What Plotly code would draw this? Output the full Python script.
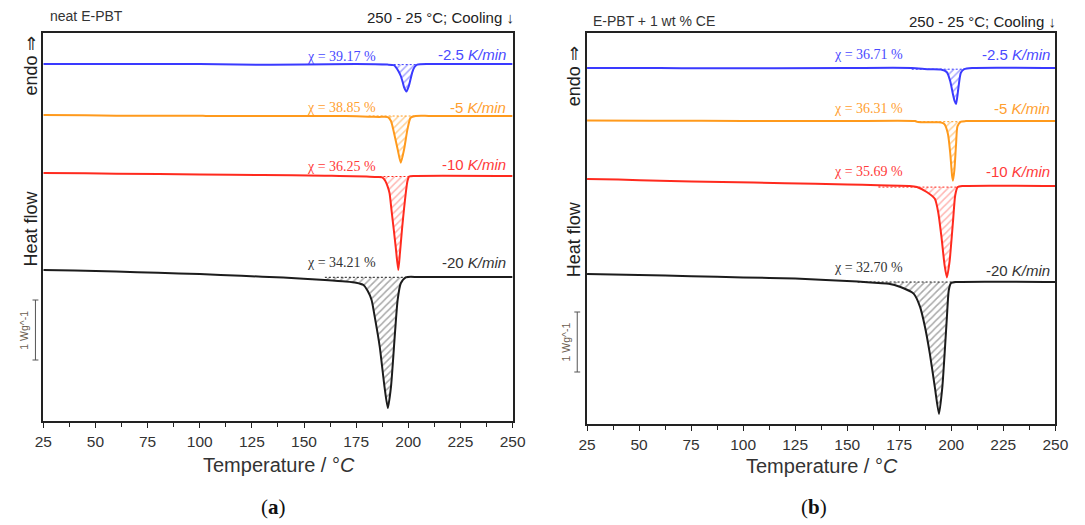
import plotly.graph_objects as go

W, H = 1085, 525

# ---------------- (a) neat E-PBT : cooling scans, stacked heat flow / W g^-1 ----------------
temp_a_2p5 = [25, 60, 100, 118, 150, 175, 190, 193, 194.1, 195.3, 196.4, 197.3, 198.0, 199.1,
              200.3, 201.1, 201.9, 203, 204.3, 210, 250]
hf_a_2p5 = [0, 0, 0, -0.01, -0.01, 0, -0.01, -0.02, -0.055, -0.12, -0.2, -0.3, -0.39, -0.46,
            -0.36, -0.25, -0.14, -0.05, -0.01, 0, 0]

temp_a_5 = [25, 45, 60, 100, 103, 150, 170, 181, 186, 190.2, 191.7, 193.3, 194.9, 196.4, 198.0,
            199.6, 201.1, 203.5, 210, 250]
hf_a_5 = [-0.85, -0.855, -0.862, -0.862, -0.867, -0.867, -0.867, -0.878, -0.882, -0.885, -0.95,
          -1.17, -1.42, -1.645, -1.42, -1.09, -0.895, -0.867, -0.865, -0.865]

temp_a_10 = [25, 45, 60, 100, 130, 160, 167, 180, 185, 187.5, 189, 190, 191, 192, 193, 194, 195.2,
             196, 197, 198, 198.8, 199.6, 200.4, 203, 250]
hf_a_10 = [-1.817, -1.822, -1.83, -1.84, -1.85, -1.862, -1.866, -1.875, -1.885, -1.89, -1.95, -2.03,
           -2.15, -2.45, -2.75, -3.06, -3.433, -3.15, -2.75, -2.40, -2.15, -1.95, -1.875, -1.865,
           -1.865]

temp_a_20 = [25, 40, 60, 80, 100, 120, 140, 160, 170, 175, 178.5, 180.5, 182.4, 183.9, 186.3, 188.6,
             190.2, 191.7, 193.6, 194.9, 196.4, 198.8, 205, 250]
hf_a_20 = [-3.433, -3.44, -3.46, -3.48, -3.50, -3.53, -3.56, -3.60, -3.625, -3.645, -3.683, -3.78,
           -3.933, -4.21, -4.71, -5.38, -5.733, -5.38, -4.49, -3.93, -3.655, -3.555, -3.55, -3.55]

# ---------------- (b) E-PBT + 1 wt % CE ----------------
temp_b_2p5 = [25, 60, 80, 150, 181, 189, 195, 197.9, 199.5, 200.7, 201.6, 202.3, 203.0, 203.5,
              204.6, 206.2, 210, 250]
hf_b_2p5 = [0, 0, -0.005, 0, 0, -0.02, -0.025, -0.07, -0.22, -0.42, -0.55, -0.6, -0.45, -0.31,
            -0.08, -0.02, 0, 0]

temp_b_5 = [25, 55, 80, 120, 150, 182.7, 184, 194, 196, 196.8, 198.4, 199.5, 200.4, 200.8, 201.5,
            202.3, 203.0, 204.7, 207, 250]
hf_b_5 = [-0.875, -0.88, -0.88, -0.885, -0.885, -0.885, -0.9, -0.905, -0.92, -0.94, -1.10, -1.42,
          -1.80, -1.88, -1.70, -1.27, -0.97, -0.895, -0.885, -0.885]

temp_b_10 = [25, 40, 60, 90, 120, 150, 165, 180, 183.5, 188.2, 192.1, 193.7, 195.2, 196.8, 197.9,
             199.2, 200.8, 201.9, 203.1, 205.4, 250]
hf_b_10 = [-1.85, -1.86, -1.88, -1.90, -1.92, -1.94, -1.955, -1.965, -1.984, -2.067, -2.18, -2.40,
           -2.79, -3.29, -3.49, -3.22, -2.57, -2.12, -1.985, -1.967, -1.967]

temp_b_20 = [25, 50, 75, 100, 125, 155, 165, 170, 175.6, 181.9, 185.0, 187.4, 189.7, 192.1, 194.1,
             195.7, 196.8, 197.9, 198.8, 199.9, 202.3, 250]
hf_b_20 = [-3.433, -3.45, -3.47, -3.49, -3.51, -3.56, -3.585, -3.595, -3.65, -3.76, -3.98, -4.32,
           -4.76, -5.32, -5.767, -5.32, -4.76, -4.15, -3.705, -3.585, -3.567, -3.567]

# cooling rates and degree of crystallinity for each scan
rates = ["-2.5", "-5", "-10", "-20"]
cryst_a = ["39.17", "38.85", "36.25", "34.21"]
cryst_b = ["36.71", "36.31", "35.69", "32.70"]

# temperature windows of the crystallisation peak integration
peak_a = [(193, 204.3), (181, 203.5), (167, 200.4), (160, 198.8)]
peak_b = [(181, 206.2), (182.7, 204.7), (165, 203.1), (155, 202.3)]

line_colors = ["#3a3aff", "#ff9a1c", "#ff2a1e", "#1c1c1c"]
hatch_colors = ["rgba(58,58,255,0.9)", "rgba(255,154,28,0.9)", "rgba(255,60,50,0.75)", "rgba(40,40,40,0.8)"]
text_colors = ["#4a4aff", "#ffa030", "#ff3a3a", "#333333"]

panels = [
    dict(curves=[(temp_a_2p5, hf_a_2p5), (temp_a_5, hf_a_5), (temp_a_10, hf_a_10), (temp_a_20, hf_a_20)],
         peaks=peak_a, cryst=cryst_a, xa="x", ya="y"),
    dict(curves=[(temp_b_2p5, hf_b_2p5), (temp_b_5, hf_b_5), (temp_b_10, hf_b_10), (temp_b_20, hf_b_20)],
         peaks=peak_b, cryst=cryst_b, xa="x2", ya="y2"),
]


def px_x(p):
    return p / W


def px_y(p):
    return 1 - p / H


fig = go.Figure()

for pan in panels:
    for i, (t, h) in enumerate(pan["curves"]):
        t0, t1 = pan["peaks"][i]
        base = h[t.index(t1)]
        # integration baseline
        fig.add_trace(go.Scatter(
            x=[t0, t1], y=[base, base], mode="lines", xaxis=pan["xa"], yaxis=pan["ya"],
            line=dict(color=line_colors[i], width=1, dash="2px,2px"), showlegend=False,
            hoverinfo="skip"))
        # hatched crystallisation area
        sel = [k for k, tv in enumerate(t) if t0 <= tv <= t1]
        fig.add_trace(go.Scatter(
            x=[t[k] for k in sel], y=[h[k] for k in sel], mode="lines",
            xaxis=pan["xa"], yaxis=pan["ya"], fill="tonexty",
            fillcolor="rgba(0,0,0,0)",
            fillpattern=dict(shape="/", fgcolor=hatch_colors[i], bgcolor="rgba(0,0,0,0)",
                             size=5, solidity=0.3),
            line=dict(width=0, shape="spline", smoothing=0.6), showlegend=False,
            hoverinfo="skip"))
        # DSC curve
        fig.add_trace(go.Scatter(
            x=t, y=h, mode="lines", xaxis=pan["xa"], yaxis=pan["ya"],
            line=dict(color=line_colors[i], width=2, shape="spline", smoothing=0.6),
            showlegend=False, name=rates[i] + " K/min"))

sans = "Liberation Sans, Arial, sans-serif"
serif = "Liberation Serif, Times New Roman, serif"

xaxis_common = dict(
    range=[25, 250], tickmode="array", tickvals=list(range(25, 251, 25)),
    ticks="outside", ticklen=5, tickwidth=1.3, tickcolor="#222",
    minor=dict(dtick=12.5, tick0=25, ticks="outside", ticklen=4, tickwidth=1.2, tickcolor="#222"),
    showline=True, linewidth=2, linecolor="#222", mirror=True,
    showgrid=False, zeroline=False,
    tickfont=dict(family=sans, size=15.5, color="#333"),
)
yaxis_common = dict(
    showticklabels=False, ticks="", showline=True, linewidth=2, linecolor="#222", mirror=True,
    showgrid=False, zeroline=False,
)

fig.update_layout(
    width=W, height=H, margin=dict(l=0, r=0, t=0, b=0),
    paper_bgcolor="white", plot_bgcolor="white",
    xaxis=dict(domain=[px_x(35), px_x(514)], anchor="y", **xaxis_common),
    yaxis=dict(domain=[px_y(421), px_y(33)], anchor="x", range=[(64 - 421) / 60, (64 - 33) / 60],
               **yaxis_common),
    xaxis2=dict(domain=[px_x(590), px_x(1068)], anchor="y2", **xaxis_common),
    yaxis2=dict(domain=[px_y(424), px_y(33)], anchor="x2", range=[(68 - 424) / 60, (68 - 33) / 60],
                **yaxis_common),
)

ann = []


def paper_text(text, x, y, size, xanchor="center", font=sans, color="#333", angle=0):
    ann.append(dict(text=text, x=px_x(x), y=px_y(y), xref="paper", yref="paper",
                    xanchor=xanchor, yanchor="middle", showarrow=False, textangle=angle,
                    font=dict(family=font, size=size, color=color)))


# titles above each frame
paper_text("neat E-PBT", 40, 16, 14, xanchor="left")
paper_text("250 - 25 °C; Cooling ↓", 517, 17, 15, xanchor="right", color="#222")
paper_text("E-PBT + 1 wt % CE", 594, 21, 14, xanchor="left")
paper_text("250 - 25 °C; Cooling ↓", 1071, 21, 15, xanchor="right", color="#222")

# y-axis labels
paper_text("endo ⇒", 22, 66, 18, angle=-90, color="#222")
paper_text("Heat flow", 22, 229, 18, angle=-90, color="#222")
paper_text("endo ⇒", 577, 76, 18, angle=-90, color="#222")
paper_text("Heat flow", 577, 239, 18, angle=-90, color="#222")

# x-axis titles and panel letters
paper_text("Temperature / °<i>C</i>", 276, 465, 20, color="#333")
paper_text("Temperature / °<i>C</i>", 830, 466, 20, color="#333")
paper_text("(<b>a</b>)", 270, 507, 21, font=serif, color="#111")
paper_text("(<b>b</b>)", 822, 507, 21, font=serif, color="#111")

# scale bar labels
paper_text("1 Wg^-1", 15, 330, 10.5, angle=-90, color="#6b5d50")
paper_text("1 Wg^-1", 569, 342, 10.5, angle=-90, color="#6b5d50")

# crystallinity and cooling-rate labels (data coordinates)
chi_pos_a = [(167.8, 0.117), (167.8, -0.733), (167.8, -1.70), (167.8, -3.30)]
rate_pos_a = [(248.0, 0.15), (248.0, -0.733), (248.0, -1.667), (248.0, -3.30)]
chi_pos_b = [(160.1, 0.217), (160.1, -0.667), (160.1, -1.733), (160.1, -3.317)]
rate_pos_b = [(248.4, 0.217), (248.4, -0.667), (248.4, -1.717), (248.4, -3.367)]

for pan, chi_pos, rate_pos in [(panels[0], chi_pos_a, rate_pos_a), (panels[1], chi_pos_b, rate_pos_b)]:
    for i in range(4):
        ann.append(dict(text="χ = " + pan["cryst"][i] + " %", x=chi_pos[i][0], y=chi_pos[i][1],
                        xref=pan["xa"], yref=pan["ya"], showarrow=False, xanchor="center",
                        yanchor="middle", font=dict(family=serif, size=14, color=text_colors[i])))
        ann.append(dict(text=rates[i] + " <i>K/min</i>", x=rate_pos[i][0], y=rate_pos[i][1],
                        xref=pan["xa"], yref=pan["ya"], showarrow=False, xanchor="right",
                        yanchor="middle", font=dict(family=sans, size=15, color=text_colors[i])))

fig.update_layout(annotations=ann)

# 1 W/g scale bars
shapes = []
for xpx, ya, ytop in [(27, "y", (64 - 300) / 60), (580, "y2", (68 - 312) / 60)]:
    ybot = ytop - 1.0
    style = dict(color="#555", width=1)
    shapes.append(dict(type="line", xref="paper", yref=ya, x0=px_x(xpx), x1=px_x(xpx),
                       y0=ytop, y1=ybot, line=style))
    for yy in (ytop, ybot):
        shapes.append(dict(type="line", xref="paper", yref=ya, x0=px_x(xpx - 3), x1=px_x(xpx + 3),
                           y0=yy, y1=yy, line=style))
fig.update_layout(shapes=shapes)

fig.write_html("out.html")
